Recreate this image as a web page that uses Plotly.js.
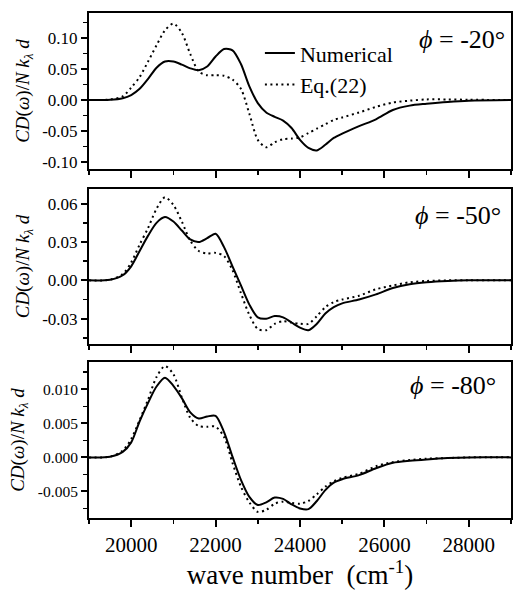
<!DOCTYPE html>
<html>
<head>
<meta charset="utf-8">
<script src="https://cdn.plot.ly/plotly-3.0.1.min.js"></script>
<style>html,body{margin:0;padding:0;background:#fff;}#chart{width:515px;height:590px;}</style>
</head>
<body>
<div id="chart"></div>
<script>
// wave numbers (cm^-1)
const waveNumber = [19000, 19500, 19800, 20000, 20200, 20400, 20600, 20800, 21000, 21200, 21400, 21600, 21800, 22000, 22200, 22400, 22600, 22800, 23000, 23200, 23400, 23600, 23800, 24000, 24200, 24400, 24600, 24800, 25000, 25400, 25800, 26200, 26600, 27000, 27500, 28000, 29000];

// phi = -20 deg
const numerical20 = [0, 0.0005, 0.003, 0.008, 0.018, 0.034, 0.052, 0.062, 0.062, 0.057, 0.051, 0.048, 0.054, 0.070, 0.082, 0.080, 0.058, 0.022, -0.005, -0.020, -0.027, -0.033, -0.045, -0.064, -0.077, -0.081, -0.072, -0.061, -0.054, -0.042, -0.031, -0.016, -0.009, -0.006, -0.003, -0.001, 0];
const eq22_20 = [0, 0.001, 0.006, 0.020, 0.037, 0.062, 0.088, 0.112, 0.123, 0.108, 0.074, 0.046, 0.040, 0.040, 0.039, 0.033, 0.018, -0.022, -0.064, -0.076, -0.068, -0.063, -0.062, -0.060, -0.053, -0.046, -0.039, -0.032, -0.028, -0.020, -0.011, -0.004, -0.001, 0.001, 0.001, 0.0005, 0];

// phi = -50 deg
const numerical50 = [0, 0.0005, 0.004, 0.011, 0.023, 0.035, 0.045, 0.0495, 0.046, 0.039, 0.032, 0.030, 0.033, 0.0365, 0.026, 0.011, -0.004, -0.019, -0.029, -0.030, -0.028, -0.029, -0.033, -0.037, -0.039, -0.034, -0.026, -0.021, -0.018, -0.015, -0.011, -0.006, -0.003, -0.0015, -0.0005, 0, 0];
const eq22_50 = [0, 0.0005, 0.005, 0.014, 0.028, 0.041, 0.056, 0.065, 0.059, 0.046, 0.031, 0.023, 0.021, 0.0215, 0.019, 0.008, -0.010, -0.027, -0.038, -0.039, -0.034, -0.032, -0.033, -0.034, -0.034, -0.028, -0.021, -0.017, -0.015, -0.012, -0.007, -0.004, -0.0015, -0.0005, 0, 0, 0];

// phi = -80 deg
const numerical80 = [0, 0.0001, 0.0008, 0.0022, 0.0053, 0.0080, 0.0104, 0.0117, 0.0105, 0.0087, 0.0066, 0.0057, 0.0060, 0.0061, 0.0037, 0.0001, -0.0033, -0.0058, -0.0070, -0.0066, -0.0059, -0.0061, -0.0069, -0.0075, -0.0076, -0.0064, -0.0048, -0.0037, -0.0032, -0.0026, -0.0016, -0.0008, -0.0005, -0.0003, -0.0001, 0, 0];
const eq22_80 = [0, 0.0001, 0.001, 0.0027, 0.0055, 0.0085, 0.0118, 0.0134, 0.0122, 0.0088, 0.0058, 0.0046, 0.0045, 0.0045, 0.0030, -0.0008, -0.0043, -0.0066, -0.0080, -0.0077, -0.0068, -0.0065, -0.0067, -0.0068, -0.0064, -0.0054, -0.0043, -0.0035, -0.0030, -0.0024, -0.0013, -0.0007, -0.0004, -0.0002, -0.0001, 0, 0];

const seriesNames = ['Numerical', 'Eq.(22)'];
const panelLabels = ['<i>ϕ</i> = -20°', '<i>ϕ</i> = -50°', '<i>ϕ</i> = -80°'];

const xTickVals = [20000, 22000, 24000, 26000, 28000];
const xTickText = ['20000', '22000', '24000', '26000', '28000'];
const y1TickVals = [-0.10, -0.05, 0, 0.05, 0.10];
const y1TickText = ['-0.10', '-0.05', '0.00', '0.05', '0.10'];
const y2TickVals = [-0.03, 0, 0.03, 0.06];
const y2TickText = ['-0.03', '0.00', '0.03', '0.06'];
const y3TickVals = [-0.005, 0, 0.005, 0.010];
const y3TickText = ['-0.005', '0.000', '0.005', '0.010'];

const xTitle = 'wave number  (cm<sup>-1</sup>)';
const yTitle = '<i>CD</i>(<i>ω</i>)/<i>N k</i><sub><i>λ</i></sub> <i>d</i>';

const FONT = "'Liberation Serif', 'Times New Roman', serif";
const solid = {color: '#000', width: 2, shape: 'spline', smoothing: 0.8};
const dotted = {color: '#000', width: 2, dash: '2px,3.5px', shape: 'spline', smoothing: 0.8};

const panels = [
  {num: numerical20, eq: eq22_20, xa: 'x', ya: 'y'},
  {num: numerical50, eq: eq22_50, xa: 'x2', ya: 'y2'},
  {num: numerical80, eq: eq22_80, xa: 'x3', ya: 'y3'}
];
const traces = [];
panels.forEach((p, i) => {
  traces.push({x: waveNumber, y: p.num, xaxis: p.xa, yaxis: p.ya, mode: 'lines', name: seriesNames[0], line: solid, showlegend: i === 0});
  traces.push({x: waveNumber, y: p.eq, xaxis: p.xa, yaxis: p.ya, mode: 'lines', name: seriesNames[1], line: dotted, showlegend: i === 0});
});

function xAxis(anchor, showLabels) {
  const a = {
    anchor: anchor, domain: [0, 1], range: [19000, 29000],
    tickmode: 'array', tickvals: xTickVals, ticktext: xTickText,
    showticklabels: showLabels,
    ticks: 'outside', ticklen: 7, tickwidth: 2, tickcolor: '#000',
    minor: {tickmode: 'linear', tick0: 19000, dtick: 1000, ticks: 'outside', ticklen: 4, tickwidth: 1.5, tickcolor: '#000'},
    showline: true, linewidth: 2, linecolor: '#000', mirror: true,
    showgrid: false, zeroline: false,
    tickfont: {family: FONT, size: 21, color: '#000'}
  };
  if (showLabels) a.title = {text: xTitle, font: {family: FONT, size: 27, color: '#000'}, standoff: 7};
  return a;
}
function yAxis(anchor, domain, range, vals, text, minorStep, fsize) {
  return {
    anchor: anchor, domain: domain, range: range,
    tickmode: 'array', tickvals: vals, ticktext: text,
    ticks: 'outside', ticklen: 6, tickwidth: 2, tickcolor: '#000',
    minor: {tickmode: 'linear', tick0: 0, dtick: minorStep, ticks: 'outside', ticklen: 4, tickwidth: 1.5, tickcolor: '#000'},
    showline: true, linewidth: 2, linecolor: '#000', mirror: true,
    showgrid: false, zeroline: false,
    tickfont: {family: FONT, size: fsize, color: '#000'},
    title: {text: yTitle, font: {family: FONT, size: 19, color: '#000'}, standoff: 8}
  };
}

const layout = {
  width: 515, height: 590,
  margin: {l: 89, r: 4, t: 13, b: 72},
  paper_bgcolor: '#fff', plot_bgcolor: '#fff',
  font: {family: FONT, color: '#000'},
  showlegend: true,
  legend: {x: 0.405, y: 0.962, xanchor: 'left', yanchor: 'top', bgcolor: 'rgba(0,0,0,0)',
           font: {family: FONT, size: 22, color: '#000'}, itemwidth: 30, tracegroupgap: 0},
  xaxis: xAxis('y', false),
  xaxis2: xAxis('y2', false),
  xaxis3: xAxis('y3', true),
  yaxis: yAxis('x', [0.691, 1], [-0.111, 0.140], y1TickVals, y1TickText, 0.025, 17),
  yaxis2: yAxis('x2', [0.3446, 0.6515], [-0.0498, 0.0715], y2TickVals, y2TickText, 0.015, 17),
  yaxis3: yAxis('x3', [0, 0.3089], [-0.0089, 0.0140], y3TickVals, y3TickText, 0.0025, 15.5),
  annotations: [
    {text: panelLabels[0], xref: 'x domain', yref: 'y domain', x: 0.99, y: 0.83, xanchor: 'right', yanchor: 'middle', showarrow: false, font: {family: FONT, size: 26, color: '#000'}},
    {text: panelLabels[1], xref: 'x2 domain', yref: 'y2 domain', x: 0.981, y: 0.83, xanchor: 'right', yanchor: 'middle', showarrow: false, font: {family: FONT, size: 26, color: '#000'}},
    {text: panelLabels[2], xref: 'x3 domain', yref: 'y3 domain', x: 0.969, y: 0.85, xanchor: 'right', yanchor: 'middle', showarrow: false, font: {family: FONT, size: 26, color: '#000'}}
  ]
};

Plotly.newPlot('chart', traces, layout, {staticPlot: true, displayModeBar: false});
</script>
</body>
</html>
